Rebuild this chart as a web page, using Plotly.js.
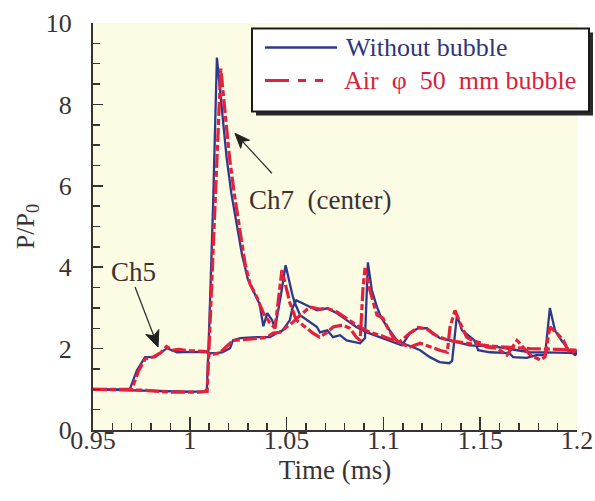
<!DOCTYPE html>
<html>
<head>
<meta charset="utf-8">
<script src="https://cdn.plot.ly/plotly-3.0.1.min.js"></script>
<style>
  html, body { margin: 0; padding: 0; background: #ffffff; }
  #chart { width: 595px; height: 501px; }
</style>
</head>
<body>
<div id="chart"></div>
<script>
// Pressure histories P/P0 at Ch5 and Ch7 (center), with and without an air bubble

// Ch5, without bubble
const ch5TimeWithout = [0.95, 0.969, 0.9727, 0.9769, 0.982, 0.9846, 0.9882, 0.9908, 0.9934, 1.000, 1.0089, 1.010, 1.014, 1.017, 1.0208, 1.0223, 1.026, 1.0347, 1.0414, 1.045, 1.048, 1.0517, 1.053, 1.055, 1.0605, 1.0657, 1.071, 1.076, 1.081, 1.086, 1.0915, 1.098, 1.104, 1.1096, 1.1137, 1.118, 1.1225, 1.1257, 1.129, 1.134, 1.1447, 1.1587, 1.1757, 1.19, 1.2];
const ch5PressWithout = [1.0, 1.0, 1.47, 1.79, 1.79, 1.89, 2.01, 1.96, 1.91, 1.92, 1.91, 1.89, 1.89, 1.91, 2.01, 2.2, 2.26, 2.28, 2.28, 2.38, 2.45, 2.7, 3.0, 3.19, 3.07, 2.94, 2.99, 2.87, 2.7, 2.53, 2.4, 2.28, 2.18, 2.08, 2.38, 2.5, 2.5, 2.38, 2.26, 2.2, 2.08, 2.04, 1.91, 1.9, 1.89];

// Ch7 (center), without bubble
const ch7TimeWithout = [0.95, 0.97, 0.985, 1.0, 1.0075, 1.0088, 1.0098, 1.012, 1.014, 1.0166, 1.019, 1.0215, 1.0245, 1.027, 1.030, 1.033, 1.036, 1.038, 1.040, 1.0425, 1.044, 1.047, 1.0495, 1.0528, 1.054, 1.057, 1.0657, 1.0672, 1.071, 1.074, 1.0776, 1.081, 1.086, 1.088, 1.0905, 1.092, 1.094, 1.0967, 1.099, 1.102, 1.107, 1.110, 1.115, 1.119, 1.124, 1.129, 1.134, 1.1355, 1.138, 1.1406, 1.1437, 1.147, 1.149, 1.155, 1.165, 1.167, 1.174, 1.179, 1.1835, 1.186, 1.1886, 1.192, 1.196, 1.199, 1.2];
const ch7PressWithout = [1.0, 0.98, 0.95, 0.94, 0.95, 1.0, 2.2, 5.47, 9.15, 7.95, 6.7, 5.8, 5.0, 4.3, 3.7, 3.4, 3.1, 2.55, 2.87, 2.7, 2.5, 3.3, 4.05, 3.36, 3.15, 2.82, 2.53, 2.4, 2.45, 2.28, 2.33, 2.2, 2.16, 2.13, 2.26, 4.12, 3.44, 3.02, 2.75, 2.53, 2.2, 2.13, 2.04, 1.96, 1.79, 1.67, 1.64, 1.7, 2.82, 2.45, 2.33, 2.2, 1.96, 1.91, 1.89, 1.79, 1.77, 1.84, 1.84, 3.0, 2.45, 2.2, 1.96, 1.84, 1.88];

// Ch5, air bubble (phi 50 mm)
const ch5TimeAir = [0.95, 0.970, 0.9735, 0.977, 0.9815, 0.985, 0.988, 0.991, 0.994, 1.0, 1.009, 1.0104, 1.0156, 1.021, 1.0223, 1.031, 1.0399, 1.043, 1.0466, 1.050, 1.0533, 1.057, 1.062, 1.067, 1.071, 1.076, 1.081, 1.087, 1.093, 1.1, 1.108, 1.1137, 1.118, 1.1225, 1.1257, 1.129, 1.134, 1.1447, 1.1587, 1.1757, 1.19, 1.2];
const ch5PressAir = [1.0, 1.0, 1.45, 1.75, 1.8, 1.9, 2.05, 1.96, 1.98, 1.95, 1.93, 1.84, 1.9, 2.13, 2.2, 2.23, 2.28, 2.38, 2.4, 2.53, 2.65, 2.82, 3.02, 2.97, 2.99, 2.9, 2.75, 2.55, 2.4, 2.3, 2.15, 2.38, 2.52, 2.48, 2.36, 2.28, 2.2, 2.12, 2.05, 2.0, 1.98, 1.96];

// Ch7 (center), air bubble (phi 50 mm)
const ch7TimeAir = [0.95, 0.975, 0.99, 1.005, 1.009, 1.0105, 1.013, 1.016, 1.018, 1.0205, 1.023, 1.026, 1.0285, 1.031, 1.0347, 1.038, 1.0414, 1.044, 1.0476, 1.0517, 1.055, 1.0605, 1.0636, 1.067, 1.071, 1.074, 1.079, 1.0827, 1.086, 1.088, 1.0894, 1.0905, 1.093, 1.0967, 1.0998, 1.102, 1.105, 1.1086, 1.1137, 1.119, 1.124, 1.129, 1.133, 1.1344, 1.137, 1.1396, 1.143, 1.146, 1.151, 1.153, 1.1587, 1.1638, 1.169, 1.172, 1.1757, 1.181, 1.1835, 1.186, 1.1896, 1.193, 1.196, 1.2];
const ch7PressAir = [1.0, 0.98, 0.93, 0.93, 0.95, 2.5, 5.5, 8.88, 7.9, 6.7, 5.8, 4.9, 4.1, 3.6, 3.26, 2.87, 2.63, 2.5, 3.93, 3.12, 2.7, 2.5, 2.38, 2.28, 2.4, 2.53, 2.58, 2.5, 2.28, 2.2, 3.44, 3.98, 3.44, 2.82, 2.75, 2.53, 2.28, 2.13, 2.04, 2.13, 2.04, 1.96, 1.91, 2.53, 2.94, 2.63, 2.28, 2.2, 2.13, 2.04, 2.01, 1.84, 2.2, 2.04, 1.85, 1.72, 1.8, 2.53, 2.38, 2.2, 1.89, 1.96];

// Axis ticks and labels
const xTickVals = [0.95, 1.0, 1.05, 1.1, 1.15, 1.2];
const xTickText = ['0.95', '1', '1.05', '1.1', '1.15', '1.2'];
const yTickVals = [0, 2, 4, 6, 8, 10];
const yTickText = ['0', '2', '4', '6', '8', '10'];

// Series names
const nameWithout = 'Without bubble';
const nameAir = 'Air\u00a0\u00a0\u03c6\u00a0\u00a050\u00a0\u00a0mm\u00a0bubble';

const BLUE = '#2c3a8e';
const RED = '#e4203c';
const INK = '#3a3232';
const SERIF = '"Liberation Serif", "Times New Roman", Times, serif';
const RED_DASH = '14px,3px,6px,3px';

const X_RANGE = [0.95, 1.2];
const Y_RANGE = [0, 10];

// Plot box in pixels
const W = 595, H = 501;
const M = { l: 93, r: 18, t: 22.5, b: 71 };
const plotW = W - M.l - M.r, plotH = H - M.t - M.b;
// pixel -> paper fraction
const px = x => (x - M.l) / plotW;
const py = y => (H - M.b - y) / plotH;
// data -> pixel
const dataToPx = (t, p) => ({
  x: M.l + (t - X_RANGE[0]) / (X_RANGE[1] - X_RANGE[0]) * plotW,
  y: H - M.b - (p - Y_RANGE[0]) / (Y_RANGE[1] - Y_RANGE[0]) * plotH
});

// Pointer arrow (shaft + barbed head) from a tail offset to a data point
function pointer(headT, headP, offX, offY, len, halfW, notch) {
  const head = dataToPx(headT, headP);
  const tail = { x: head.x + offX, y: head.y + offY };
  const dx = head.x - tail.x, dy = head.y - tail.y;
  const L = Math.hypot(dx, dy);
  const ux = dx / L, uy = dy / L, nx = -uy, ny = ux;
  const base = { x: head.x - ux * len, y: head.y - uy * len };
  const mid = { x: head.x - ux * (len - notch), y: head.y - uy * (len - notch) };
  const left = { x: base.x + nx * halfW, y: base.y + ny * halfW };
  const right = { x: base.x - nx * halfW, y: base.y - ny * halfW };
  const P = q => px(q.x).toFixed(5) + ',' + py(q.y).toFixed(5);
  return [
    { type: 'line', xref: 'paper', yref: 'paper', layer: 'above',
      x0: px(tail.x), y0: py(tail.y), x1: px(mid.x), y1: py(mid.y),
      line: { color: INK, width: 1.3 } },
    { type: 'path', xref: 'paper', yref: 'paper', layer: 'above',
      path: 'M' + P(head) + ' L' + P(left) + ' L' + P(mid) + ' L' + P(right) + ' Z',
      fillcolor: '#222222', line: { color: '#222222', width: 1 } }
  ];
}

const traces = [
  { x: ch5TimeWithout, y: ch5PressWithout, name: nameWithout, mode: 'lines',
    line: { color: BLUE, width: 2.3 }, showlegend: false },
  { x: ch7TimeWithout, y: ch7PressWithout, name: nameWithout, mode: 'lines',
    line: { color: BLUE, width: 2.3 }, showlegend: false },
  { x: ch5TimeAir, y: ch5PressAir, name: nameAir, mode: 'lines',
    line: { color: RED, width: 3.2, dash: RED_DASH }, showlegend: false },
  { x: ch7TimeAir, y: ch7PressAir, name: nameAir, mode: 'lines',
    line: { color: RED, width: 3.2, dash: RED_DASH }, showlegend: false }
];

// Legend box: shadow, white frame, line samples
const legendBox = { x0: 252, x1: 589, y0: 28, y1: 111 };
const rowY = [47, 80];
const shapes = [
  { type: 'rect', xref: 'paper', yref: 'paper', layer: 'above',
    x0: px(legendBox.x0 + 4), x1: px(legendBox.x1 + 4), y0: py(legendBox.y1 + 4), y1: py(legendBox.y0 + 4),
    fillcolor: '#2a2a2a', line: { width: 0 } },
  { type: 'rect', xref: 'paper', yref: 'paper', layer: 'above',
    x0: px(legendBox.x0), x1: px(legendBox.x1), y0: py(legendBox.y1), y1: py(legendBox.y0),
    fillcolor: '#ffffff', line: { color: '#1a1a1a', width: 2 } },
  { type: 'line', xref: 'paper', yref: 'paper', layer: 'above',
    x0: px(265), x1: px(337), y0: py(rowY[0]), y1: py(rowY[0]),
    line: { color: BLUE, width: 2.5 } },
  { type: 'line', xref: 'paper', yref: 'paper', layer: 'above',
    x0: px(265), x1: px(338), y0: py(rowY[1]), y1: py(rowY[1]),
    line: { color: RED, width: 3, dash: '24px,9px,8px,9px,8px' } }
].concat(
  pointer(1.0233, 7.29, 37, 40, 15, 6, 4),   // Ch7 -> main peak
  pointer(0.9836, 2.04, -23, -60, 16, 7, 4)  // Ch5 -> plateau
);

const annotations = [
  { xref: 'paper', yref: 'paper', x: px(344), y: py(rowY[0]), xanchor: 'left', yanchor: 'middle',
    text: nameWithout, showarrow: false, font: { family: SERIF, size: 26, color: '#2e3580' } },
  { xref: 'paper', yref: 'paper', x: px(342), y: py(rowY[1]), xanchor: 'left', yanchor: 'middle',
    text: nameAir, showarrow: false, font: { family: SERIF, size: 26, color: '#d81f3a' } },
  { x: 1.0675, y: 5.64, text: 'Ch7\u00a0\u00a0(center)', showarrow: false,
    font: { family: SERIF, size: 27, color: INK } },
  { x: 0.9707, y: 3.88, text: 'Ch5', showarrow: false,
    font: { family: SERIF, size: 27, color: INK } }
];

const layout = {
  width: W, height: H,
  margin: M,
  paper_bgcolor: '#ffffff',
  plot_bgcolor: '#fcfbe4',
  font: { family: SERIF, color: INK, size: 26 },
  showlegend: false,
  xaxis: {
    range: X_RANGE,
    tickmode: 'array', tickvals: xTickVals, ticktext: xTickText,
    ticks: 'inside', ticklen: 13, tickwidth: 1.5, tickcolor: INK,
    minor: { tick0: 0.95, dtick: 0.01, ticks: 'inside', ticklen: 7, tickwidth: 1.5, tickcolor: INK, showgrid: false },
    showline: true, linecolor: INK, linewidth: 2,
    showgrid: false, zeroline: false,
    tickfont: { family: SERIF, size: 26, color: INK },
    ticklabelstandoff: -14,
    title: { text: 'Time (ms)', font: { family: SERIF, size: 27, color: INK }, standoff: 3 }
  },
  yaxis: {
    range: Y_RANGE,
    tickmode: 'array', tickvals: yTickVals, ticktext: yTickText,
    ticks: 'inside', ticklen: 10, tickwidth: 1.5, tickcolor: INK,
    minor: { tick0: 0, dtick: 0.5, ticks: 'inside', ticklen: 7, tickwidth: 1.5, tickcolor: INK, showgrid: false },
    showline: true, linecolor: INK, linewidth: 2,
    showgrid: false, zeroline: false,
    tickfont: { family: SERIF, size: 26, color: INK },
    ticklabelstandoff: 14,
    title: { text: 'P/P<sub>0</sub>', font: { family: SERIF, size: 26, color: INK }, standoff: 4 }
  },
  shapes: shapes,
  annotations: annotations
};

Plotly.newPlot('chart', traces, layout, { displayModeBar: false, staticPlot: true });
</script>
</body>
</html>
